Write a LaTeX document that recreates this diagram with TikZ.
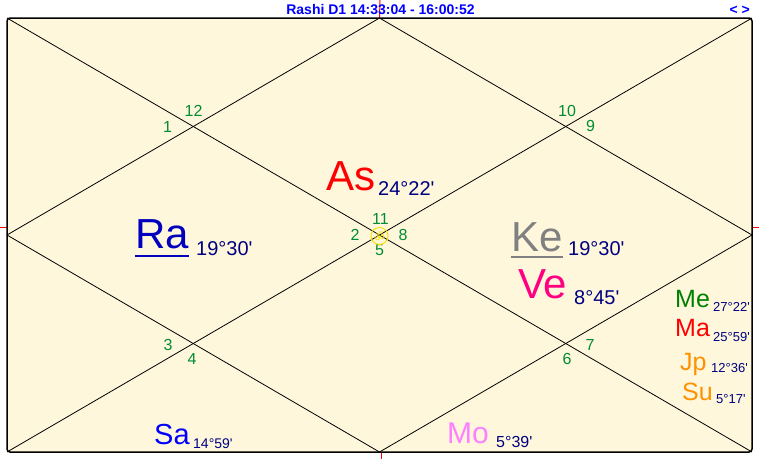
\documentclass[tikz,border=0pt]{standalone}
\usepackage{fontspec}
\setmainfont{Liberation Sans}
\newfontfamily\devfont[Script=Devanagari]{Noto Sans}
\definecolor{chartbg}{RGB}{254,247,220}
\definecolor{housenum}{RGB}{0,140,50}
\definecolor{degcol}{RGB}{0,0,128}
\definecolor{rahucol}{RGB}{0,0,190}
\definecolor{satcol}{RGB}{0,0,255}
\definecolor{ketucol}{RGB}{128,128,128}
\definecolor{venuscol}{RGB}{255,0,128}
\definecolor{mercol}{RGB}{0,128,0}
\definecolor{marscol}{RGB}{255,0,0}
\definecolor{jupcol}{RGB}{255,145,0}
\definecolor{mooncol}{RGB}{255,128,255}
\definecolor{omcol}{RGB}{250,225,0}
\newcommand\fsz[1]{\fontsize{#1}{#1}\selectfont}
\newcommand\mn{\textquotesingle}
\begin{document}
\begin{tikzpicture}[x=1pt,y=-1pt,
  frameline/.style={draw=black,line width=1.5pt,rounded corners=3pt},
  chartline/.style={draw=black,line width=0.8pt},
  tickline/.style={draw=red,line width=1pt},
  hnum/.style={inner sep=0pt,anchor=center,text=housenum,font=\fsz{16}},
  bigplanet/.style={inner sep=0pt,anchor=base west,font=\fsz{42}},
  midplanet/.style={inner sep=0pt,anchor=base west,font=\fsz{30}},
  smallplanet/.style={inner sep=0pt,anchor=base west,font=\fsz{25}},
  bigdeg/.style={inner sep=0pt,anchor=base west,text=degcol,font=\fsz{20}},
  middeg/.style={inner sep=0pt,anchor=base west,text=degcol,font=\fsz{15}},
  smalldeg/.style={inner sep=0pt,anchor=base west,text=degcol,font=\fsz{13}},
  titletext/.style={inner sep=0pt,text=satcol,font=\bfseries\fsz{14}}]
\useasboundingbox (0,0) rectangle (759,459);
% corners and midpoints
\coordinate (TL) at (7,18);
\coordinate (TR) at (752,18);
\coordinate (BL) at (7,452);
\coordinate (BR) at (752,452);
\coordinate (T) at (379.5,18);
\coordinate (B) at (379.5,452);
\coordinate (L) at (7,235);
\coordinate (R) at (752,235);
% red ticks
\coordinate (tt0) at (380,0);
\coordinate (tb0) at (381,459);
\coordinate (tb1) at (381,452);
\coordinate (tl0) at (0,227);
\coordinate (tl1) at (7,227);
\coordinate (tr0) at (752,227);
\coordinate (tr1) at (759,227);
% frame
\fill[chartbg,rounded corners=3pt] (TL) rectangle (BR);
\draw[tickline] (tt0) -- (T);
\draw[tickline] (tb1) -- (tb0);
\draw[tickline] (tl0) -- (tl1);
\draw[tickline] (tr0) -- (tr1);
\draw[chartline] (TL) -- (BR);
\draw[chartline] (TR) -- (BL);
\draw[chartline] (T) -- (R) -- (B) -- (L) -- cycle;
\draw[frameline] (TL) rectangle (BR);
% title
\node[titletext,anchor=base] (title) at (380.5,14) {Rashi D1 14:33:04 - 16:00:52};
\node[titletext,anchor=base east] (nav) at (750,14) {< >};
% house numbers
\node[hnum] (h12) at (193.5,111) {12};
\node[hnum] (h1) at (167.5,127) {1};
\node[hnum] (h10) at (567,111) {10};
\node[hnum] (h9) at (590.5,126) {9};
\node[hnum] (h11) at (380.5,219) {11};
\node[hnum] (h2) at (355,235) {2};
\node[hnum] (h8) at (403,235) {8};
\node[hnum] (h5) at (379.5,250.5) {5};
\node[hnum] (h3) at (168,345) {3};
\node[hnum] (h4) at (192,359) {4};
\node[hnum] (h6) at (567,359) {6};
\node[hnum] (h7) at (590,345) {7};
% om
\node[draw=omcol,circle,line width=1pt,minimum size=17pt,inner sep=0pt,text=omcol,font=\devfont\fsz{12}] (om) at (379.5,236) {ॐ};
% planets
\node[bigplanet,text=marscol] (as) at (326,190) {As};
\node[bigdeg] (asd) at (378,195) {24°22\mn};
\node[bigplanet,text=rahucol] (ra) at (135,248) {Ra};
\node[bigdeg] (rad) at (196,255) {19°30\mn};
\draw[rahucol,line width=2.5pt] ([yshift=-8pt]ra.base west) -- ([yshift=-8pt]ra.base east);
\node[bigplanet,text=ketucol] (ke) at (511,251) {Ke};
\node[bigdeg] (ked) at (568,255) {19°30\mn};
\draw[ketucol,line width=2.5pt] ([yshift=-6pt]ke.base west) -- ([yshift=-6pt]ke.base east);
\node[bigplanet,text=venuscol] (ve) at (518,298) {Ve};
\node[bigdeg] (ved) at (574,304) {8°45\mn};
\node[smallplanet,text=mercol] (me) at (675,307) {Me};
\node[smalldeg] (med) at (713,311) {27°22\mn};
\node[smallplanet,text=marscol] (ma) at (675,336) {Ma};
\node[smalldeg] (mad) at (713,341) {25°59\mn};
\node[smallplanet,text=jupcol] (jp) at (680,370) {Jp};
\node[smalldeg] (jpd) at (711,372) {12°36\mn};
\node[smallplanet,text=jupcol] (su) at (682,400) {Su};
\node[smalldeg] (sud) at (716,403) {5°17\mn};
\node[midplanet,text=satcol,font=\fsz{29}] (sa) at (154,444) {Sa};
\node[middeg,font=\fsz{14}] (sad) at (193,448) {14°59\mn};
\node[midplanet,text=mooncol] (mo) at (447,443) {Mo};
\node[middeg,font=\fsz{16}] (mod) at (496,447) {5°39\mn};
\end{tikzpicture}
\end{document}
